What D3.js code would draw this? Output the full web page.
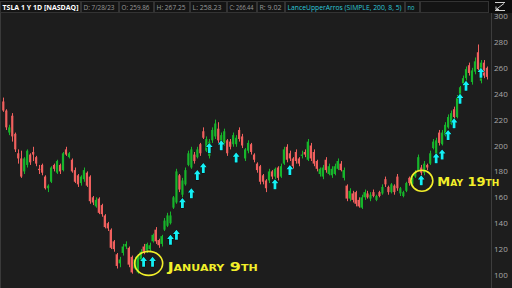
<!DOCTYPE html>
<html>
<head>
<meta charset="utf-8">
<script src="https://cdn.jsdelivr.net/npm/d3@7"></script>
<style>
  html, body { margin: 0; padding: 0; background: #1d1d1d; }
  svg { display: block; }
</style>
</head>
<body>
<div id="viz"></div>
<script>
//==============================================================================
// Data (TSLA daily candles)
var opens = [234,227,210,223,209,194,190,180,185,193,195,191,182,185,176,167,172,185,179,185,
  181,197,191,189,181,177,171,174,179,176,160,153,159,154,146,140,135,126,116,109,
  117,122,121,114,105,102,112,122,119,120,126,135,127,124,135,138,140,152,156,177,
  162,170,185,183,193,191,201,211,196,192,204,207,213,199,202,204,203,201,201,212,
  207,190,196,201,193,186,184,177,173,173,180,176,183,176,186,199,194,190,195,190,
  192,195,189,200,195,188,178,176,189,178,177,178,182,186,175,169,159,163,164,158,
  152,160,163,159,164,158,164,163,174,168,164,169,176,163,161,165,175,170,176,181,
  183,179,185,186,198,193,210,201,208,214,217,228,222,237,248,252,262,249,257,272,
  250,264,260];
var highs = [237,228,216,225,210,197,196,191,197,194,199,192,185,186,177,170,184,186,189,186,
  195,199,195,190,183,178,177,183,180,177,161,160,160,155,147,141,136,127,117,114,
  124,126,122,115,114,116,120,124,125,125,132,137,128,131,144,148,149,161,182,178,
  175,183,196,199,195,199,202,214,207,205,214,220,218,210,213,205,205,210,208,214,
  209,198,204,202,194,187,185,178,174,182,181,183,184,186,199,201,196,191,197,191,
  196,197,205,202,197,189,183,185,191,186,184,186,190,188,183,170,167,165,165,160,
  162,166,165,164,166,162,165,170,176,169,171,170,178,168,165,172,176,177,181,193,
  185,188,186,196,205,206,212,212,218,224,227,230,239,246,254,261,264,260,268,278,
  266,266,261];
var lows = [226,212,208,203,195,186,175,178,183,185,188,184,178,177,166,164,171,180,178,178,
  180,192,190,179,171,168,169,172,168,155,154,152,147,145,136,134,120,118,105,106,
  115,120,106,101,104,101,110,116,117,118,125,124,121,122,134,137,139,151,155,164,
  160,169,184,182,186,190,192,205,195,190,202,205,202,197,200,192,197,199,199,203,
  198,188,194,193,187,179,170,170,164,171,174,174,173,175,185,187,188,182,186,184,
  190,191,188,188,184,180,176,174,179,177,175,177,181,180,173,157,157,156,153,152,
  151,158,159,157,160,157,160,162,168,162,163,162,165,161,160,164,169,168,175,180,
  177,177,181,185,197,192,200,200,207,213,216,220,221,236,246,250,254,247,255,257,
  248,252,251];
var closes = [227,214,214,207,197,190,176,190,196,187,193,186,181,179,167,169,183,182,188,180,
  194,193,194,180,172,170,176,181,169,157,156,158,148,147,137,136,121,120,107,112,
  122,124,108,102,112,114,118,118,124,123,131,126,123,130,142,146,146,160,180,166,
  173,181,194,197,188,197,194,206,205,203,212,217,204,208,211,194,199,208,206,205,
  200,197,202,195,189,181,172,172,167,180,176,182,175,184,197,189,190,184,188,186,
  193,193,203,190,186,182,182,183,181,184,182,184,188,181,181,159,165,158,155,153,
  160,164,160,162,161,161,161,168,170,164,170,164,167,167,164,171,171,175,179,191,
  179,186,183,194,203,204,202,210,216,222,225,222,237,245,252,259,256,258,265,259,
  264,254,253];

// Indicator arrows: bar index and price level of the arrow tip
var arrowIdx = [47,50,56,58,60,63,65,67,69,73,78,91,96,140,145,147,149,151,153,155,160];
var arrowAt = [114,114,131,135,159.5,167,181,186.5,202,204,194.5,174,185,177,194,197,212,221,240,250,260];

// Hand drawn notes
var noteLabels = ["January 9th", "May 19th"];
var noteIdx = [48.7, 140.2];
var notePrice = [109, 172.8];

// Price axis ticks
var yTicks = [100,120,140,160,180,200,220,240,260,280,300];

// Header boxes
var headerTexts = ["TSLA 1 Y 1D [NASDAQ]", "D: 7/28/23", "O: 259.86", "H: 267.25", "L: 258.23",
  "C: 266.44", "R: 9.02", "LanceUpperArros (SIMPLE, 200, 8, 5)", "no", ""];

//==============================================================================
// Sizes
var width = 512, height = 288;
var plot_right = 491;
var red = "#f0605e", green = "#17b52b", cyan = "#14f0f5", yellow = "#f2ef2a";

var svg = d3.select("#viz").append("svg")
  .attr("width", width)
  .attr("height", height);

svg.append("rect")
  .attr("width", width).attr("height", height)
  .attr("fill", "#1d1d1d");

// Scales
var xScale = d3.scaleBand()
  .domain(d3.range(closes.length))
  .range([1.8, 487.5])
  .paddingInner(0.3);
var yScale = d3.scaleLinear()
  .domain([100, 300])
  .range([275, 16]);

var xAt = function(i) { return 1.8 + xScale.step() * (i + 0.5); };

// Frame lines
svg.append("line")
  .attr("x1", plot_right + 0.5).attr("x2", plot_right + 0.5)
  .attr("y1", 13).attr("y2", height)
  .attr("stroke", "#3d3d3d");
svg.append("line")
  .attr("x1", 0.5).attr("x2", 0.5)
  .attr("y1", 13).attr("y2", height)
  .attr("stroke", "#3a3a3a");

//==============================================================================
// Candles
var candles = svg.append("g").selectAll("g")
  .data(closes)
  .enter().append("g");

candles.append("line")
  .attr("x1", function(d, i) { return Math.round(xAt(i)) + 0.5; })
  .attr("x2", function(d, i) { return Math.round(xAt(i)) + 0.5; })
  .attr("y1", function(d, i) { return yScale(highs[i]); })
  .attr("y2", function(d, i) { return yScale(lows[i]); })
  .attr("stroke", function(d, i) { return d >= opens[i] ? green : red; })
  .attr("stroke-width", 1);

candles.append("rect")
  .attr("x", function(d, i) { return xAt(i) - 1.1; })
  .attr("width", 2.2)
  .attr("y", function(d, i) { return yScale(Math.max(d, opens[i])); })
  .attr("height", function(d, i) { return Math.max(1, Math.abs(yScale(d) - yScale(opens[i]))); })
  .attr("fill", function(d, i) { return d >= opens[i] ? green : red; });

//==============================================================================
// Arrows
var arrowPath = "M0,0 L3.4,4.2 L1.4,4.2 L1.4,10 L-1.4,10 L-1.4,4.2 L-3.4,4.2 Z";
svg.append("g").selectAll("path")
  .data(arrowIdx)
  .enter().append("path")
  .attr("d", arrowPath)
  .attr("transform", function(d, i) { return "translate(" + xAt(d) + "," + yScale(arrowAt[i]) + ")"; })
  .attr("fill", cyan)
  .attr("stroke", "#0b0b0b")
  .attr("stroke-width", 0.9)
  .attr("paint-order", "stroke");

//==============================================================================
// Notes
var notes = svg.append("g");
notes.selectAll("ellipse")
  .data(noteLabels)
  .enter().append("ellipse")
  .attr("cx", function(d, i) { return xAt(noteIdx[i]); })
  .attr("cy", function(d, i) { return yScale(notePrice[i]); })
  .attr("rx", function(d, i) { return i == 0 ? 14 : 11; })
  .attr("ry", function(d, i) { return i == 0 ? 12 : 10.5; })
  .attr("fill", "none")
  .attr("stroke", yellow)
  .attr("stroke-width", 1.6);

notes.selectAll("text")
  .data(noteLabels)
  .enter().append("text")
  .attr("x", function(d, i) { return xAt(noteIdx[i]) + (i == 0 ? 19 : 15.5); })
  .attr("y", function(d, i) { return yScale(notePrice[i]) + (i == 0 ? 8 : 5); })
  .attr("fill", yellow)
  .attr("font-family", "DejaVu Sans")
  .attr("font-weight", "bold")
  .attr("font-variant", "small-caps")
  .attr("font-size", 13)
  .attr("textLength", function(d, i) { return i == 0 ? 90 : 62; })
  .attr("lengthAdjust", "spacingAndGlyphs")
  .text(function(d) { return d; });

//==============================================================================
// Price axis
svg.append("g").selectAll("text")
  .data(yTicks)
  .enter().append("text")
  .attr("x", 494)
  .attr("y", function(d) { return yScale(d) + 3; })
  .attr("fill", "#a8a8a8")
  .attr("font-family", "Open Sans")
  .attr("font-size", 8)
  .text(function(d) { return d; });

//==============================================================================
// Header
var hx = [0, 81, 119, 154, 190, 227, 257, 285, 405, 420];
var hw = [81, 38, 35, 36, 37, 30, 28, 120, 15, 69];
var tlen = [76, 31, 28, 29, 29, 24, 22, 114, 7, 0];
var header = svg.append("g");
header.append("rect")
  .attr("width", width).attr("height", 13)
  .attr("fill", "#0d0d0d");

var hb = header.selectAll("g")
  .data(headerTexts)
  .enter().append("g")
  .attr("transform", function(d, i) { return "translate(" + hx[i] + ",1)"; });
hb.append("rect")
  .attr("x", 0.5).attr("y", 0.5)
  .attr("width", function(d, i) { return hw[i] - 1; })
  .attr("height", 11)
  .attr("fill", "#141414")
  .attr("stroke", "#333");
hb.filter(function(d) { return d != ""; })
  .append("text")
  .attr("x", 2.5)
  .attr("y", 9)
  .attr("font-family", "Open Sans")
  .attr("font-size", function(d, i) { return i == 7 ? 6.6 : 7.5; })
  .attr("font-weight", function(d, i) { return i == 0 ? "bold" : "normal"; })
  .attr("fill", function(d, i) { return i == 0 ? "#ffffff" : (i >= 7 ? "#2fc8d8" : "#9a9a9a"); })
  .attr("textLength", function(d, i) { return tlen[i]; })
  .attr("lengthAdjust", "spacingAndGlyphs")
  .text(function(d) { return d; });

// little zoom icon top right
var icon = svg.append("g").attr("transform", "translate(493,1)");
icon.append("path")
  .attr("d", "M2,1.5 H12 M2,9.5 H12 M11,2.5 L3,8.5 M3,8.5 V5.5 M3,8.5 H6")
  .attr("stroke", "#d0d0d0")
  .attr("fill", "none")
  .attr("stroke-width", 1);
</script>
</body>
</html>
